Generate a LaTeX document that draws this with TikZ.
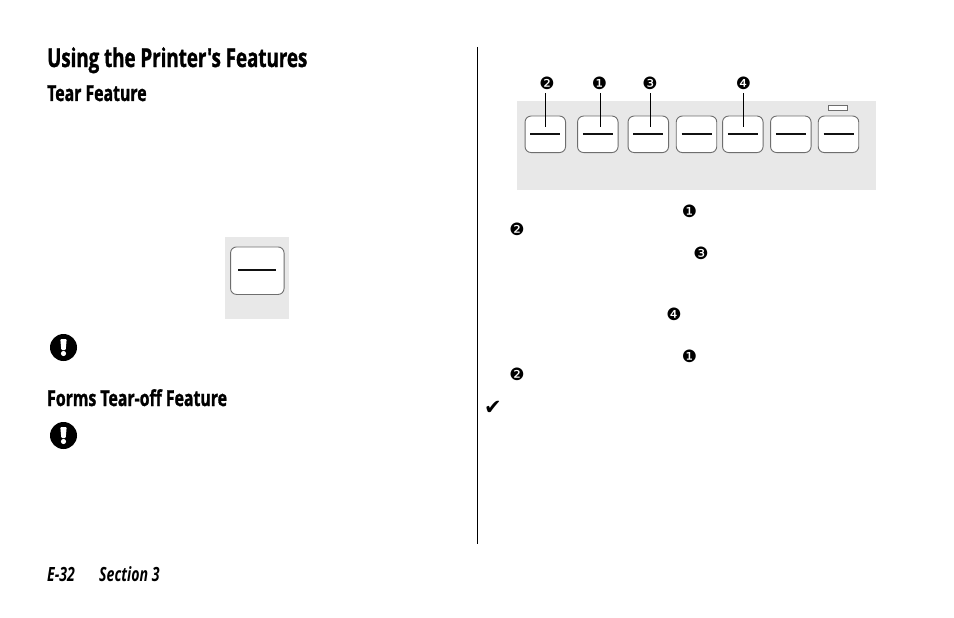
\documentclass[tikz,border=0pt]{standalone}
\usepackage{fontspec}
\newfontfamily\headfont[FakeStretch=0.72,BoldFeatures={FakeBold=1.2}]{Open Sans}
\newfontfamily\symfont{DejaVu Sans}
\definecolor{panelgray}{HTML}{E8E8E8}
\definecolor{keyedge}{HTML}{6E6E6E}
\definecolor{inkblack}{HTML}{111111}
\tikzset{
  x=1pt,y=-1pt,
  panel/.style={fill=panelgray,draw=none},
  keybox/.style={draw=keyedge,line width=0.9pt,fill=white,rounded corners=6pt,minimum width=40.5pt,minimum height=36.5pt,inner sep=0pt,outer sep=0pt},
  keybar/.style={draw=inkblack,line width=1.7pt},
  leader/.style={draw=black,line width=0.8pt},
  numlabel/.style={font=\symfont\fontsize{17}{17}\selectfont,inner sep=0pt,text=black},
  htitle/.style={font=\headfont\bfseries\fontsize{26}{26}\selectfont,anchor=base west,inner sep=0pt,text=black},
  hsub/.style={font=\headfont\bfseries\fontsize{22}{22}\selectfont,anchor=base west,inner sep=0pt,text=black},
  foot/.style={font=\headfont\bfseries\itshape\fontsize{19.6}{19.6}\selectfont,anchor=base west,inner sep=0pt,text=black},
  warn/.style={circle,fill=black,minimum size=27pt,inner sep=0pt},
}
\newcommand{\keyat}[3]{%
  \node[keybox] (#1) at (#2,#3) {};
  \draw[keybar] (#2-15,#3-0.6) -- (#2+15,#3-0.6);
}
\newcommand{\warnat}[3]{%
  \node[warn] (#1) at (#2,#3) {};
  \fill[white,rounded corners=1pt] (#2-3.2,#3-8.5) -- (#2+3.2,#3-8.5) -- (#2+2.2,#3+2.5) -- (#2-2.2,#3+2.5) -- cycle;
  \fill[white] (#2,#3+6) circle (2.6);
}
\begin{document}
\begin{tikzpicture}
\useasboundingbox (0,0) rectangle (954,618);
\fill[white] (0,0) rectangle (954,618);

\node[htitle] (title) at (47,67) {Using the Printer's Features};
\node[hsub] (tear) at (47,101) {Tear Feature};
\node[hsub] (forms) at (47,406) {Forms Tear-off Feature};
\node[foot] (page) at (47,581) {E-32};
\node[foot] (section) at (99,581) {Section 3};

\draw[black,line width=0.8pt] (477.5,47) -- (477.5,544);

% left key
\fill[panel] (225,237) rectangle (289,319);
\node[keybox,minimum width=53.5pt,minimum height=47.5pt] (leftkey) at (257.3,270.7) {};
\draw[keybar,line width=1.3pt] (238,270) -- (276,270);

\warnat{warnA}{63.5}{347.5}
\warnat{warnB}{63.5}{435.5}

% control panel
\fill[panel] (517,101) rectangle (876,190);
\keyat{k1}{545.3}{134.3}
\keyat{k2}{597.8}{134.3}
\keyat{k3}{648.3}{134.3}
\keyat{k4}{696.5}{134.3}
\keyat{k5}{742.8}{134.3}
\keyat{k6}{790.8}{134.3}
\keyat{k7}{838.5}{134.3}
\node[draw=keyedge,fill=white,line width=0.7pt,minimum width=19.5pt,minimum height=5.5pt,inner sep=0pt] (lamp) at (838,107.8) {};

\node[numlabel] (n2) at (547,83.5) {❷};
\node[numlabel] (n1) at (599.5,83.5) {❶};
\node[numlabel] (n3) at (650,83.5) {❸};
\node[numlabel] (n4) at (743.5,83.5) {❹};
\coordinate (t2) at (545.7,127);
\coordinate (t1) at (600.3,127);
\coordinate (t3) at (650.3,127);
\coordinate (t4) at (743.3,127);
\draw[leader] (t2 |- 0,93.5) -- (t2);
\draw[leader] (t1 |- 0,93.5) -- (t1);
\draw[leader] (t3 |- 0,93.5) -- (t3);
\draw[leader] (t4 |- 0,93.5) -- (t4);

% inline markers
\node[numlabel] (m1) at (689.5,211) {❶};
\node[numlabel] (m2) at (517,229.5) {❷};
\node[numlabel] (m3) at (701,253) {❸};
\node[numlabel] (m4) at (674,314) {❹};
\node[numlabel] (m5) at (689.5,356) {❶};
\node[numlabel] (m6) at (517,374) {❷};
\node[font=\symfont\fontsize{21}{21}\selectfont,inner sep=0pt] (check) at (493,408) {✔};
\end{tikzpicture}
\end{document}
